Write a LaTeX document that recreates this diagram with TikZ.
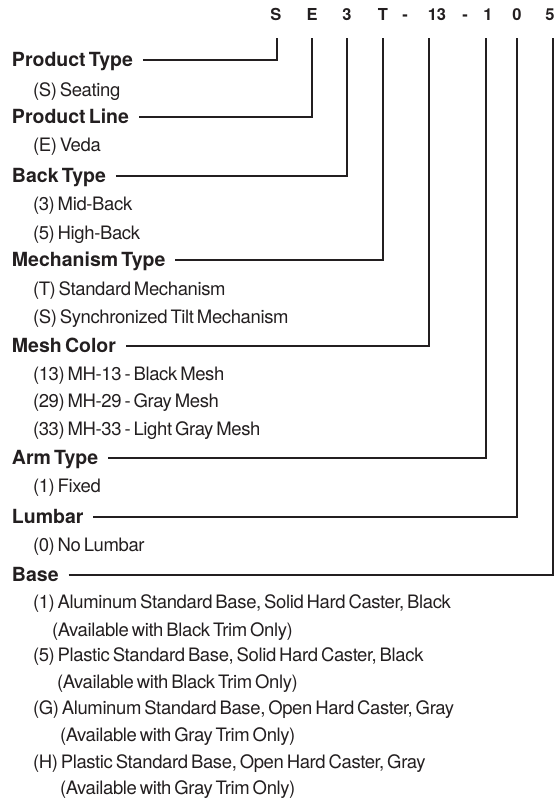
\documentclass[tikz,border=0pt]{standalone}
\usepackage{fontspec}
\setmainfont{TeX Gyre Heros}[LetterSpace=-2,WordSpace=0.6]
\newfontfamily\headfont{TeX Gyre Heros}[LetterSpace=0,WordSpace=0.6]
\usetikzlibrary{calc}
\definecolor{ink}{HTML}{231F20}
\begin{document}
\begin{tikzpicture}[x=1pt,y=-1pt,
  every node/.style={inner sep=0pt,outer sep=0pt,text=ink},
  head/.style={anchor=base west,font=\headfont\fontsize{19.5}{21}\selectfont\bfseries},
  item/.style={anchor=base west,font=\fontsize{18.5}{20}\selectfont},
  code/.style={anchor=base,font=\fontsize{16.5}{18}\selectfont\bfseries},
  conn/.style={draw=ink,line width=1.5pt}]
\useasboundingbox (0,0) rectangle (559,801);
% code letters
\node[code] (cS) at (276,20) {S};
\node[code] (cE) at (312,20) {E};
\node[code] (c3) at (347,20) {3};
\node[code] (cT) at (383,20) {T};
\node[code] (d1) at (405,20) {-};
\node[code] (c13) at (437,20) {13};
\node[code] (d2) at (465,20) {-};
\node[code] (c1) at (488,20) {1};
\node[code] (c0) at (517,20) {0};
\node[code] (c5) at (550,20) {5};
% connector tops
\coordinate (tS) at (277,38);
\coordinate (tE) at (312,38);
\coordinate (t3) at (347,38);
\coordinate (tT) at (383,38);
\coordinate (t13) at (429,38);
\coordinate (t1) at (486,38);
\coordinate (t0) at (517,38);
\coordinate (t5) at (553,38);
% headings
\node[head] (hPT) at (12,66) {Product Type};
\node[head] (hPL) at (12,123) {Product Line};
\node[head] (hBT) at (12,182) {Back Type};
\node[head] (hMT) at (12,266) {Mechanism Type};
\node[head] (hMC) at (12,352) {Mesh Color};
\node[head] (hAT) at (12,464) {Arm Type};
\node[head] (hL) at (12,523) {Lumbar};
\node[head] (hB) at (12,581) {Base};
% items
\node[item] (i1) at (33,96) {(S) Seating};
\node[item] (i2) at (33,151) {(E) Veda};
\node[item] (i3) at (33,210) {(3) Mid-Back};
\node[item] (i4) at (33,239) {(5) High-Back};
\node[item] (i5) at (33,295) {(T) Standard Mechanism};
\node[item] (i6) at (33,323) {(S) Synchronized Tilt Mechanism};
\node[item] (i7) at (33,380) {(13) MH-13 - Black Mesh};
\node[item] (i8) at (33,407) {(29) MH-29 - Gray Mesh};
\node[item] (i9) at (33,435) {(33) MH-33 - Light Gray Mesh};
\node[item] (i10) at (33,492) {(1) Fixed};
\node[item] (i11) at (33,551) {(0) No Lumbar};
\node[item] (i12) at (33,608) {(1) Aluminum Standard Base, Solid Hard Caster, Black};
\node[item] (i13) at (52,636) {(Available with Black Trim Only)};
\node[item] (i14) at (33,661) {(5) Plastic Standard Base, Solid Hard Caster, Black};
\node[item] (i15) at (57,688) {(Available with Black Trim Only)};
\node[item] (i16) at (33,714) {(G) Aluminum Standard Base, Open Hard Caster, Gray};
\node[item] (i17) at (60,741) {(Available with Gray Trim Only)};
\node[item] (i18) at (33,768) {(H) Plastic Standard Base, Open Hard Caster, Gray};
\node[item] (i19) at (60,794) {(Available with Gray Trim Only)};
% connectors
\draw[conn] ($(hPT.base east)+(10,-6)$) -| (tS);
\draw[conn] ($(hPL.base east)+(10,-6)$) -| (tE);
\draw[conn] ($(hBT.base east)+(10,-6)$) -| (t3);
\draw[conn] ($(hMT.base east)+(10,-6)$) -| (tT);
\draw[conn] ($(hMC.base east)+(10,-6)$) -| (t13);
\draw[conn] ($(hAT.base east)+(10,-6)$) -| (t1);
\draw[conn] ($(hL.base east)+(10,-6)$) -| (t0);
\draw[conn] ($(hB.base east)+(10,-6)$) -| (t5);
\end{tikzpicture}
\end{document}
